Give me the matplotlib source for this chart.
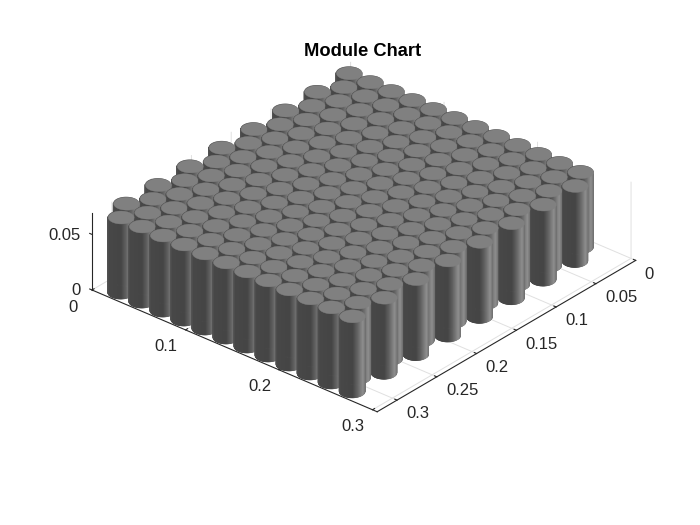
import numpy as np
import matplotlib
matplotlib.use("Agg")
import matplotlib.pyplot as plt
from mpl_toolkits.mplot3d.art3d import Poly3DCollection

plt.rcParams['font.family'] = ['Liberation Sans', 'DejaVu Sans']

# cylinder centres, rows alternate between the two x lists
x_odd = [0.0205, 0.0430, 0.0655, 0.0880, 0.1105, 0.1330, 0.1555, 0.1780, 0.2005, 0.2230, 0.2455, 0.2680]
x_even = [0.0093, 0.0318, 0.0543, 0.0768, 0.0993, 0.1218, 0.1443, 0.1668, 0.1893, 0.2118, 0.2343, 0.2568]
y_rows = [0.013, 0.033, 0.053, 0.073, 0.093, 0.113, 0.133, 0.153,
          0.173, 0.193, 0.213, 0.233, 0.253, 0.273, 0.293, 0.313]
height = 0.068
radius = 0.0105

x_ticks = [0, 0.1, 0.2, 0.3]
y_ticks = [0, 0.05, 0.1, 0.15, 0.2, 0.25, 0.3]
z_ticks = [0, 0.05]
x_labels = ["0", "0.1", "0.2", "0.3"]
y_labels = ["0", "0.05", "0.1", "0.15", "0.2", "0.25", "0.3"]
z_labels = ["0", "0.05"]

xlim = (0, 0.305)
ylim = (0.325, 0)
zlim = (0, 0.069)
elev, azim = 30, -49.5

fig = plt.figure(figsize=(7, 5.25), dpi=100)
size = 500
ax = fig.add_axes([(357.1 - size / 2) / 700, 1 - (243.6 + size / 2) / 525, size / 700, size / 525],
                  projection='3d', proj_type='ortho', computed_zorder=False)
ax.set_xlim(*xlim)
ax.set_ylim(*ylim)
ax.set_zlim(*zlim)
ax.view_init(elev=elev, azim=azim)
ax.set_box_aspect((373.5, 396.5, 88.2), zoom=1.0757)

theta = np.linspace(0, 2 * np.pi, 97)
cam = np.array([np.cos(np.radians(azim)), -np.sin(np.radians(azim))])  # towards viewer, y flipped


def side_colour(t):
    # across is -1 at the left edge of the visible side and 1 at the right edge
    across = np.cos(t) * cam[1] - np.sin(t) * cam[0]
    g = np.interp(across, [-1, -0.85, 0.0, 0.35, 0.8, 1], [0.33, 0.28, 0.27, 0.38, 0.56, 0.44])
    return (g, g, g)


centres = []
for i, y in enumerate(y_rows):
    xs = x_odd if i % 2 == (len(y_rows) - 1) % 2 else x_even
    for x in xs:
        centres.append((x, y))
centres.sort(key=lambda c: c[0] * cam[0] + c[1] * cam[1])

for n, (cx, cy) in enumerate(centres):
    cxs = cx + radius * np.cos(theta)
    cys = cy + radius * np.sin(theta)
    facets = []
    cols = []
    for k in range(len(theta) - 1):
        t = (theta[k] + theta[k + 1]) / 2
        if np.cos(t) * cam[0] + np.sin(t) * cam[1] < -0.05:
            continue  # back of the cylinder is never seen
        facets.append([(cxs[k], cys[k], 0), (cxs[k + 1], cys[k + 1], 0),
                       (cxs[k + 1], cys[k + 1], height), (cxs[k], cys[k], height)])
        cols.append(side_colour(t))
    # solid body first, otherwise the background shows through the seams between facets
    body = Poly3DCollection([list(zip(cxs, cys, np.zeros_like(cxs))) + list(zip(cxs[::-1], cys[::-1], np.full_like(cxs, height)))],
                            facecolors='#484848', edgecolors='none', zorder=10 + 3 * n)
    ax.add_collection3d(body)
    side = Poly3DCollection(facets, facecolors=cols, edgecolors=cols, linewidths=0.5, zorder=11 + 3 * n)
    ax.add_collection3d(side)
    cap = Poly3DCollection([list(zip(cxs, cys, np.full_like(cxs, height)))],
                           facecolors='#808080', edgecolors='#808080', linewidths=0.3, zorder=12 + 3 * n)
    ax.add_collection3d(cap)

ax.set_xticks(x_ticks)
ax.set_xticklabels(x_labels)
ax.set_yticks(y_ticks)
ax.set_yticklabels(y_labels)
ax.set_zticks(z_ticks)
ax.set_zticklabels(z_labels)
ax.tick_params(labelsize=12, colors='#262626')
ax.tick_params(axis='x', pad=6)
ax.tick_params(axis='y', pad=-2)
ax.tick_params(axis='z', pad=-4)
for lab in ax.get_xticklabels():
    lab.set_va('center')
for lab in ax.get_yticklabels():
    lab.set_ha('left')
for lab in ax.get_zticklabels():
    lab.set_ha('right')
    lab.set_va('center')

for axis in (ax.xaxis, ax.yaxis, ax.zaxis):
    axis.set_pane_color((1, 1, 1, 0))
    axis.pane.set_edgecolor((1, 1, 1, 0))
    axis.line.set_color('#262626')
    axis.line.set_linewidth(0.8)
    axis._axinfo['grid']['color'] = '#e0e0e0'
    axis._axinfo['grid']['linewidth'] = 0.7
    axis._axinfo['tick']['inward_factor'] = 0.0
    axis._axinfo['tick']['outward_factor'] = 0.1
ax.zaxis._axinfo['juggled'] = (1, 2, 0)
ax.zaxis._axinfo['grid']['color'] = (1, 1, 1, 0)  # no z grid lines in the picture

fig.text(363 / 700, 1 - 51.5 / 525, "Module Chart", fontsize=13.2, fontweight='bold', color='black',
         ha='center', va='center')

fig.savefig("out.png", dpi=100)
